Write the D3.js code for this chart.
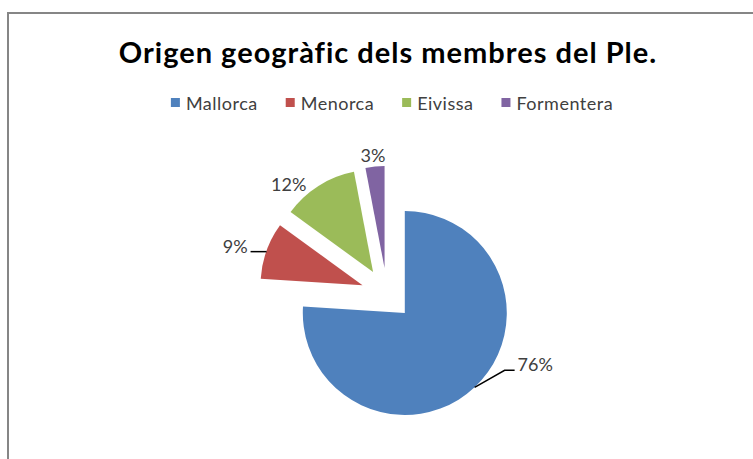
<!DOCTYPE html>
<html>
<head>
<meta charset="utf-8">
<script src="https://cdn.jsdelivr.net/npm/d3@7"></script>
<style>
  body { margin: 0; background: #fff; }
  svg { display: block; }
</style>
</head>
<body>
<div id="chart"></div>
<script>
// data
const categories = ["Mallorca", "Menorca", "Eivissa", "Formentera"];
const shares = [76, 9, 12, 3];
const colors = ["#4F81BD", "#C0504D", "#9BBB59", "#8064A2"];
const title = "Origen geogràfic dels membres del Ple.";

const width = 753, height = 459;
const cx = 387, cy = 294;     // pie centre
const radius = 102;
const explode = 26;           // every slice pulled out by this much

const svg = d3.select("#chart")
  .append("svg")
  .attr("width", width)
  .attr("height", height);

// chart frame (only left and top edges are in view)
svg.append("path")
  .attr("d", "M8,459 L8,13 L753,13")
  .attr("fill", "none")
  .attr("stroke", "#868686")
  .attr("stroke-width", 2);

svg.append("text")
  .attr("x", 388)
  .attr("y", 63)
  .attr("text-anchor", "middle")
  .attr("font-family", "Lato, 'Open Sans', sans-serif")
  .attr("font-weight", "bold")
  .attr("font-size", "29px")
  .attr("letter-spacing", "1px")
  .attr("fill", "#000")
  .text(title);

// legend
let legend = svg.append("g");
let lx = 0;
let gap = 28;
categories.forEach(function(c, i) {
  let g = legend.append("g").attr("transform", "translate(" + lx + ",0)");
  g.append("rect")
    .attr("x", 0).attr("y", -5)
    .attr("width", 9).attr("height", 9)
    .attr("fill", colors[i]);
  let t = g.append("text")
    .attr("x", 15).attr("y", 0)
    .attr("dominant-baseline", "central")
    .attr("font-family", "Lato, sans-serif")
    .attr("font-size", "18px")
    .attr("letter-spacing", "0.5px")
    .attr("fill", "#404040")
    .text(c);
  lx += 15 + t.node().getComputedTextLength() + gap;
});
lx -= gap;
legend.attr("transform", "translate(" + (392 - lx / 2) + ",103)");

// pie, starting at 12 o'clock going clockwise
let pie = d3.pie().sort(null).value(function(d) { return d; });
let arcs = pie(shares);
let arc = d3.arc().innerRadius(0).outerRadius(radius);

function midAngle(d) { return (d.startAngle + d.endAngle) / 2; }
function unit(a) { return [Math.sin(a), -Math.cos(a)]; }

let slices = svg.append("g").attr("transform", "translate(" + cx + "," + cy + ")");
slices.selectAll("path")
  .data(arcs)
  .enter()
  .append("path")
  .attr("transform", function(d) {
    let u = unit(midAngle(d));
    return "translate(" + (u[0] * explode) + "," + (u[1] * explode) + ")";
  })
  .attr("d", arc)
  .attr("fill", function(d, i) { return colors[i]; });

// data labels, placed like Excel's best fit
let labels = slices.append("g");
arcs.forEach(function(d, i) {
  let u = unit(midAngle(d));
  let ax = u[0] * (explode + radius), ay = u[1] * (explode + radius);
  let txt = shares[i] + "%";
  let t = labels.append("text")
    .attr("font-family", "Lato, sans-serif")
    .attr("font-size", "18px")
    .attr("fill", "#404040")
    .attr("dominant-baseline", "central")
    .text(txt);
  if (u[0] > 0.5) {
    // right side: elbow leader
    let ex = ax + 30, ey = ay - 17;
    labels.append("path")
      .attr("d", "M" + ax + "," + ay + " L" + ex + "," + ey + " L" + (ex + 10) + "," + ey)
      .attr("fill", "none").attr("stroke", "#000").attr("stroke-width", 1.5);
    t.attr("x", ex + 13).attr("y", ey - 6).attr("text-anchor", "start");
  } else if (u[0] < -0.8) {
    // left side: short horizontal leader
    labels.append("path")
      .attr("d", "M" + ax + "," + (ay + 1) + " L" + (ax - 16) + "," + (ay + 1))
      .attr("fill", "none").attr("stroke", "#000").attr("stroke-width", 1.5);
    t.attr("x", ax - 19).attr("y", ay - 5).attr("text-anchor", "end");
  } else if (u[0] < -0.3) {
    t.attr("x", ax - 12).attr("y", ay - 2).attr("text-anchor", "end");
  } else {
    t.attr("x", ax - 2).attr("y", ay - 12).attr("text-anchor", "middle");
  }
});
</script>
</body>
</html>
